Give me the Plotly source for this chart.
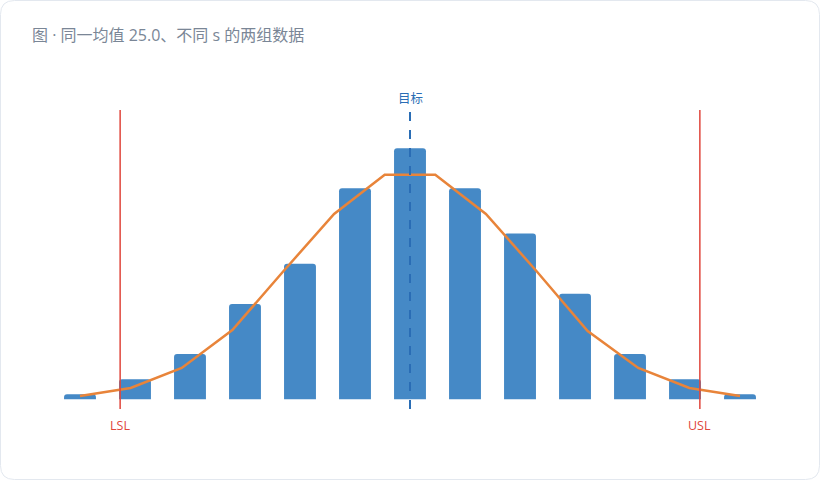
import plotly.graph_objects as go

# --- Data ---
bin_centers = [19, 20, 21, 22, 23, 24, 25, 26, 27, 28, 29, 30, 31]
counts = [1, 4, 9, 19, 27, 42, 50, 42, 33, 21, 9, 4, 1]

curve_x = [19.0, 19.92, 20.85, 21.77, 22.69, 23.62, 24.54,
           25.46, 26.38, 27.31, 28.23, 29.15, 30.08, 31.0]
curve_y = [0.66, 2.25, 6.24, 13.8, 25.4, 36.9, 44.7,
           44.7, 36.9, 25.4, 13.6, 6.24, 2.25, 0.66]

lsl = 19.73
usl = 30.27
target = 25.0
title_text = "图 · 同一均值 25.0、不同 s 的两组数据"

# --- Layout constants ---
W, H = 820, 480
ML, MR, MT, MB = 40, 40, 110, 71
PW, PH = W - ML - MR, H - MT - MB

BAR_COLOR = "#4589c6"
CURVE_COLOR = "#e8843a"
SPEC_COLOR = "#e0463c"
TARGET_COLOR = "#2a6db5"
FONT = "Open Sans, Noto Sans CJK SC, sans-serif"


def px_to_paper(x, y):
    return (x - ML) / PW, (H - MB - y) / PH


def card_path(x0, y0, x1, y1, r):
    def p(x, y):
        a, b = px_to_paper(x, y)
        return f"{a:.5f},{b:.5f}"
    pts = [
        "M" + p(x0 + r, y0),
        "L" + p(x1 - r, y0),
        "Q" + p(x1, y0) + " " + p(x1, y0 + r),
        "L" + p(x1, y1 - r),
        "Q" + p(x1, y1) + " " + p(x1 - r, y1),
        "L" + p(x0 + r, y1),
        "Q" + p(x0, y1) + " " + p(x0, y1 - r),
        "L" + p(x0, y0 + r),
        "Q" + p(x0, y0) + " " + p(x0 + r, y0),
    ]
    return " ".join(pts) + " Z"


fig = go.Figure()

fig.add_trace(go.Bar(
    x=bin_centers, y=counts,
    width=0.58,
    marker=dict(color=BAR_COLOR, line=dict(width=0)),
    hoverinfo="x+y",
))

fig.add_trace(go.Scatter(
    x=curve_x, y=curve_y,
    mode="lines",
    line=dict(color=CURVE_COLOR, width=2.5),
    hoverinfo="skip",
))

shapes = [
    dict(type="path", xref="paper", yref="paper", layer="below",
         path=card_path(0.5, 0.5, W - 0.5, H - 0.5, 14),
         line=dict(color="#e3e8ef", width=1), fillcolor="white"),
    dict(type="line", xref="x", yref="paper", x0=lsl, x1=lsl, y0=0, y1=1,
         line=dict(color=SPEC_COLOR, width=1.5)),
    dict(type="line", xref="x", yref="paper", x0=usl, x1=usl, y0=0, y1=1,
         line=dict(color=SPEC_COLOR, width=1.5)),
    dict(type="line", xref="x", yref="paper", x0=target, x1=target, y0=0, y1=1,
         line=dict(color=TARGET_COLOR, width=2, dash="dash")),
]

annotations = [
    dict(text="LSL", x=lsl, xref="x", y=0, yref="paper", yanchor="top",
         yshift=-6, showarrow=False, font=dict(color=SPEC_COLOR, size=12.5, family=FONT)),
    dict(text="USL", x=usl, xref="x", y=0, yref="paper", yanchor="top",
         yshift=-6, showarrow=False, font=dict(color=SPEC_COLOR, size=12.5, family=FONT)),
    dict(text="目标", x=target, xref="x", y=1, yref="paper", yanchor="bottom",
         yshift=1, showarrow=False, font=dict(color=TARGET_COLOR, size=12.5, family=FONT)),
    dict(text=title_text, x=px_to_paper(30, 0)[0], xref="paper",
         y=px_to_paper(0, 35)[1], yref="paper", xanchor="left", yanchor="middle",
         showarrow=False, font=dict(color="#7a8696", size=16, family=FONT)),
]

fig.update_layout(
    width=W, height=H,
    margin=dict(l=ML, r=MR, t=MT, b=MB),
    paper_bgcolor="white", plot_bgcolor="rgba(0,0,0,0)",
    showlegend=False,
    barcornerradius=3,
    xaxis=dict(range=[18.273, 31.727], visible=False, fixedrange=True),
    yaxis=dict(range=[-1.93, 57.6], visible=False, fixedrange=True),
    shapes=shapes,
    annotations=annotations,
    font=dict(family=FONT),
)

# drop the default page margin so the card fills the window
fig.write_html("out.html", post_script="document.body.style.margin='0';",
               config={"displayModeBar": False})
